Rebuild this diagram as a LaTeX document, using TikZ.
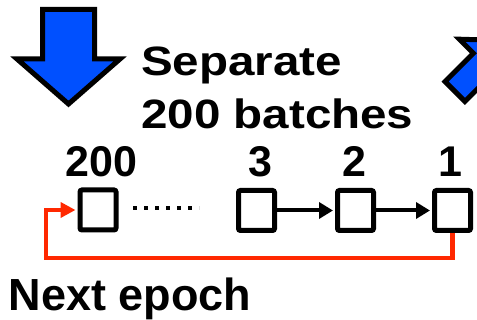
\documentclass[tikz,border=0pt]{standalone}
\usepackage{fontspec}
\setmainfont{Liberation Sans}
\usetikzlibrary{arrows.meta}
\definecolor{bigblue}{RGB}{0,80,255}
\definecolor{loopred}{RGB}{255,40,0}
\tikzset{
  bigtxt/.style={inner sep=0pt, font=\bfseries\fontsize{41}{49}\selectfont, anchor=base west},
  numtxt/.style={inner sep=0pt, font=\bfseries\fontsize{43}{50}\selectfont, anchor=base},
  batch/.style={draw=black, line width=5pt, rounded corners=2pt, minimum width=36pt, minimum height=40pt, inner sep=0pt, fill=white},
  fwd/.style={draw=black, line width=4pt, -{Triangle[length=14pt,width=16pt]}, shorten >=2pt},
  loop/.style={draw=loopred, line width=4.5pt, -{Triangle[length=15pt,width=15pt]}, shorten >=2pt},
  bluearrow/.style={fill=bigblue, draw=black, line width=5pt, line join=miter},
  dots/.style={draw=black, line width=4pt, dash pattern=on 4pt off 7pt}
}
\begin{document}
\begin{tikzpicture}[x=1pt,y=-1pt]
\useasboundingbox (0,0) rectangle (477,320);
\clip (0,0) rectangle (477,320);
% big down arrow
\draw[bluearrow] (42.5,9.5) -- (94.5,9.5) -- (94.5,59) -- (120,59) -- (68.5,104) -- (17,59) -- (42.5,59) -- cycle;
% diagonal arrow at right (partly cut off)
\draw[bluearrow] (445.1,81.6) -- (464.9,101.4) -- (493.2,73.1) -- (507.3,87.2) -- (505.9,40.6) -- (459.3,39.2) -- (473.4,53.3) -- cycle;
% texts
\node[bigtxt] (sep) at (141,76) {\scalebox{1.16}[1]{Separate}};
\node[bigtxt] (bat) at (141,129) {\scalebox{1.16}[1]{200 batches}};
% boxes
\node[batch] (b200) at (98,210) {};
\node[batch] (b3) at (256.5,210.5) {};
\node[batch] (b2) at (355.5,210.5) {};
\node[batch] (b1) at (452.5,210.5) {};
% labels
\node[numtxt] (l200) at (101.5,177) {200};
\node[numtxt] (l3) at (260,177) {3};
\node[numtxt] (l2) at (354.5,177) {2};
\node[numtxt] (l1) at (450,177) {1};
% dots
\coordinate (d0) at (133,208);
\coordinate (d1) at (199,208);
\draw[dots] (d0) -- (d1);
% forward arrows
\draw[fwd] (b3.east) -- (b2.west);
\draw[fwd] (b2.east) -- (b1.west);
% loop back
\coordinate (lc) at (46,258);
\draw[loop] (b1.south) |- (lc) |- (b200.west);
% next epoch
\node[bigtxt, font=\bfseries\fontsize{45}{52}\selectfont] (next) at (8.5,311) {Next epoch};
\end{tikzpicture}
\end{document}
